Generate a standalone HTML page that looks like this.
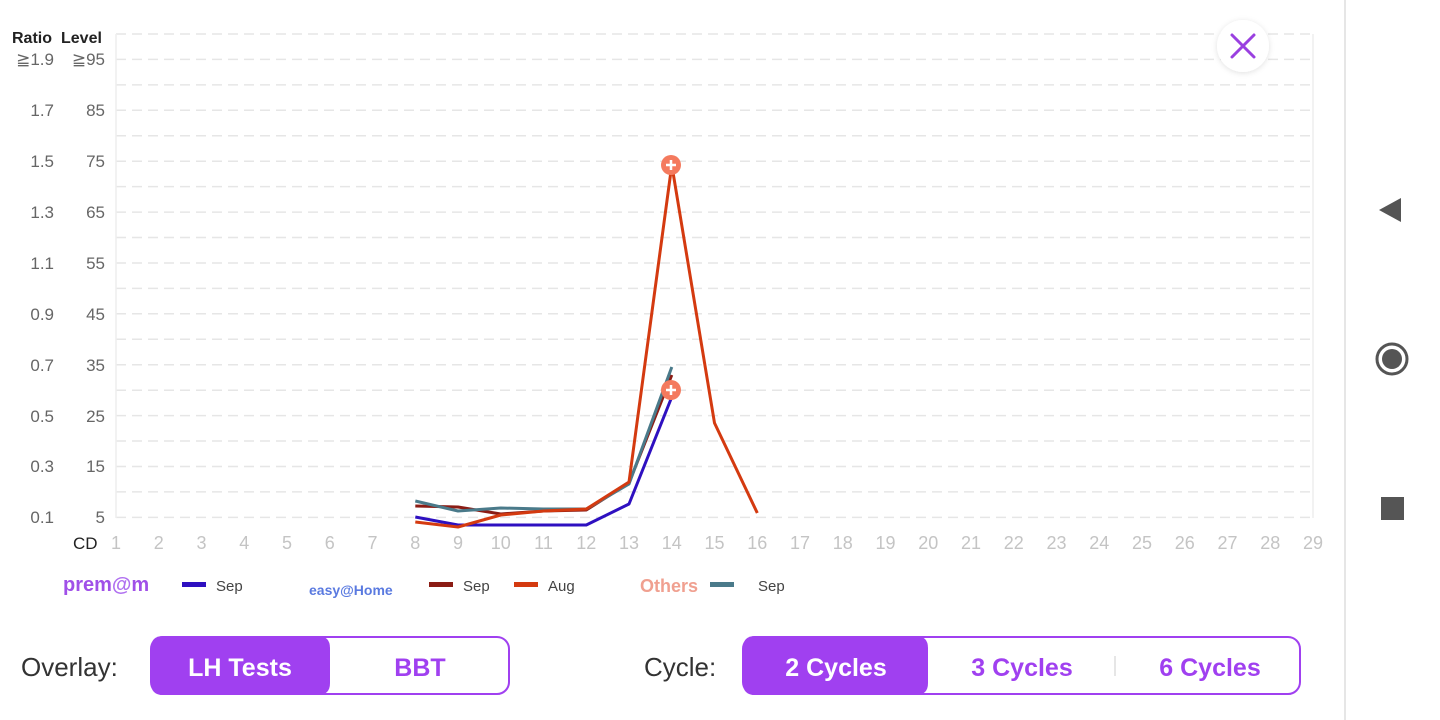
<!DOCTYPE html><html><head><meta charset="utf-8"><style>body{margin:0;background:#fff}svg{display:block}text{font-family:"Liberation Sans",sans-serif}</style></head><body>
<svg width="1440" height="720" viewBox="0 0 1440 720">
<defs><filter id="sh" x="-50%" y="-50%" width="200%" height="200%"><feDropShadow dx="0" dy="1" stdDeviation="3" flood-color="#000" flood-opacity="0.12"/></filter></defs>
<g stroke="#e6e6e6" stroke-width="1.5" stroke-dasharray="10,6">
<line x1="116" x2="1313" y1="34" y2="34"/><line x1="116" x2="1313" y1="59.4" y2="59.4"/><line x1="116" x2="1313" y1="84.9" y2="84.9"/><line x1="116" x2="1313" y1="110.3" y2="110.3"/><line x1="116" x2="1313" y1="135.8" y2="135.8"/><line x1="116" x2="1313" y1="161.2" y2="161.2"/><line x1="116" x2="1313" y1="186.6" y2="186.6"/><line x1="116" x2="1313" y1="212.1" y2="212.1"/><line x1="116" x2="1313" y1="237.5" y2="237.5"/><line x1="116" x2="1313" y1="263" y2="263"/><line x1="116" x2="1313" y1="288.4" y2="288.4"/><line x1="116" x2="1313" y1="313.8" y2="313.8"/><line x1="116" x2="1313" y1="339.3" y2="339.3"/><line x1="116" x2="1313" y1="364.7" y2="364.7"/><line x1="116" x2="1313" y1="390.2" y2="390.2"/><line x1="116" x2="1313" y1="415.6" y2="415.6"/><line x1="116" x2="1313" y1="441" y2="441"/><line x1="116" x2="1313" y1="466.5" y2="466.5"/><line x1="116" x2="1313" y1="491.9" y2="491.9"/><line x1="116" x2="1313" y1="517.4" y2="517.4"/>
</g>
<line x1="116" x2="116" y1="34" y2="518" stroke="#eee" stroke-width="1.5"/>
<line x1="1313" x2="1313" y1="34" y2="518" stroke="#eee" stroke-width="1.5"/>
<line x1="1345" x2="1345" y1="0" y2="720" stroke="#ddd" stroke-width="1.5"/>
<text x="12" y="43" font-size="16" font-weight="bold" fill="#222">Ratio</text><text x="61" y="43" font-size="16" font-weight="bold" fill="#222">Level</text>
<g font-size="17" fill="#666" text-anchor="end">
<text x="54" y="65">≧1.9</text><text x="105" y="65">≧95</text>
<text x="54" y="116">1.7</text><text x="105" y="116">85</text>
<text x="54" y="167">1.5</text><text x="105" y="167">75</text>
<text x="54" y="218">1.3</text><text x="105" y="218">65</text>
<text x="54" y="269">1.1</text><text x="105" y="269">55</text>
<text x="54" y="320">0.9</text><text x="105" y="320">45</text>
<text x="54" y="371">0.7</text><text x="105" y="371">35</text>
<text x="54" y="422">0.5</text><text x="105" y="422">25</text>
<text x="54" y="472">0.3</text><text x="105" y="472">15</text>
<text x="54" y="523">0.1</text><text x="105" y="523">5</text>
</g>
<text x="73" y="549" font-size="17" fill="#222">CD</text>
<g font-size="18" fill="#c4c4c4" text-anchor="middle">
<text x="116" y="549">1</text><text x="158.8" y="549">2</text><text x="201.5" y="549">3</text><text x="244.3" y="549">4</text><text x="287" y="549">5</text><text x="329.8" y="549">6</text><text x="372.5" y="549">7</text><text x="415.3" y="549">8</text><text x="458" y="549">9</text><text x="500.8" y="549">10</text><text x="543.5" y="549">11</text><text x="586.3" y="549">12</text><text x="629" y="549">13</text><text x="671.8" y="549">14</text><text x="714.5" y="549">15</text><text x="757.3" y="549">16</text><text x="800" y="549">17</text><text x="842.8" y="549">18</text><text x="885.5" y="549">19</text><text x="928.3" y="549">20</text><text x="971" y="549">21</text><text x="1013.8" y="549">22</text><text x="1056.5" y="549">23</text><text x="1099.3" y="549">24</text><text x="1142" y="549">25</text><text x="1184.8" y="549">26</text><text x="1227.5" y="549">27</text><text x="1270.3" y="549">28</text><text x="1313" y="549">29</text>
</g>
<g fill="none" stroke-width="3" stroke-linejoin="round">
<polyline stroke="#2e10c0" points="415.3,517 458,525 500.8,525 543.5,525 586.3,525 629,504 671.8,397"/>
<polyline stroke="#8b1c14" points="415.3,506 458,507 500.8,514 543.5,511 586.3,510 629,483 671.8,375"/>
<polyline stroke="#4a7a8a" points="415.3,501 458,511 500.8,508 543.5,509 586.3,509 629,484 671.8,367"/>
<polyline stroke="#d43a10" points="415.3,522 458,527 500.8,515 543.5,511 586.3,509 629,482 671.8,165 714.5,423 757.3,513"/>
</g>
<g><circle cx="671" cy="165" r="10" fill="#f47a5e"/><path d="M666 165h10M671 160v10" stroke="#fff" stroke-width="2.5"/>
<circle cx="671" cy="390" r="10" fill="#f47a5e"/><path d="M666 390h10M671 385v10" stroke="#fff" stroke-width="2.5"/></g>
<circle cx="1243" cy="46" r="26" fill="#fff" filter="url(#sh)"/>
<path d="M1232 35L1254 57M1254 35L1232 57" stroke="#9a40e0" stroke-width="3" stroke-linecap="round"/>
<path d="M1379 210L1401 198V222Z" fill="#555"/>
<circle cx="1392" cy="359" r="15" fill="none" stroke="#555" stroke-width="3"/><circle cx="1392" cy="359" r="10" fill="#555"/>
<rect x="1381" y="497" width="23" height="23" fill="#555"/>
<text x="63" y="591" font-size="20" font-weight="bold" fill="#a050e8">prem<tspan fill="#b070f0">@</tspan>m</text>
<rect x="182" y="582" width="24" height="5" fill="#2e10c0"/><text x="216" y="591" font-size="15" fill="#444">Sep</text>
<text x="309" y="595" font-size="14" font-weight="bold" fill="#5a7ae0">easy@Home</text>
<rect x="429" y="582" width="24" height="5" fill="#8b1c14"/><text x="463" y="591" font-size="15" fill="#444">Sep</text>
<rect x="514" y="582" width="24" height="5" fill="#d43a10"/><text x="548" y="591" font-size="15" fill="#444">Aug</text>
<text x="640" y="592" font-size="18" font-weight="bold" fill="#f0a090">Others</text>
<rect x="710" y="582" width="24" height="5" fill="#4a7a8a"/><text x="758" y="591" font-size="15" fill="#444">Sep</text>
<text x="21" y="676" font-size="26" fill="#333">Overlay:</text>
<rect x="151" y="637" width="358" height="57" rx="12" fill="#fff" stroke="#a040f0" stroke-width="2"/>
<path d="M163 636H318Q330 636 330 648V683Q330 695 318 695H163Q151 695 151 683V648Q151 636 163 636Z" fill="#a040f0"/>
<text x="240" y="676" font-size="25" font-weight="bold" fill="#fff" text-anchor="middle">LH Tests</text>
<text x="420" y="676" font-size="25" font-weight="bold" fill="#a040f0" text-anchor="middle">BBT</text>
<text x="644" y="676" font-size="26" fill="#333">Cycle:</text>
<rect x="743" y="637" width="557" height="57" rx="12" fill="#fff" stroke="#a040f0" stroke-width="2"/>
<path d="M755 636H916Q928 636 928 648V683Q928 695 916 695H755Q743 695 743 683V648Q743 636 755 636Z" fill="#a040f0"/>
<line x1="1115" x2="1115" y1="656" y2="676" stroke="#ddd" stroke-width="1.5"/>
<text x="836" y="676" font-size="25" font-weight="bold" fill="#fff" text-anchor="middle">2 Cycles</text>
<text x="1022" y="676" font-size="25" font-weight="bold" fill="#a040f0" text-anchor="middle">3 Cycles</text>
<text x="1210" y="676" font-size="25" font-weight="bold" fill="#a040f0" text-anchor="middle">6 Cycles</text>
</svg></body></html>
